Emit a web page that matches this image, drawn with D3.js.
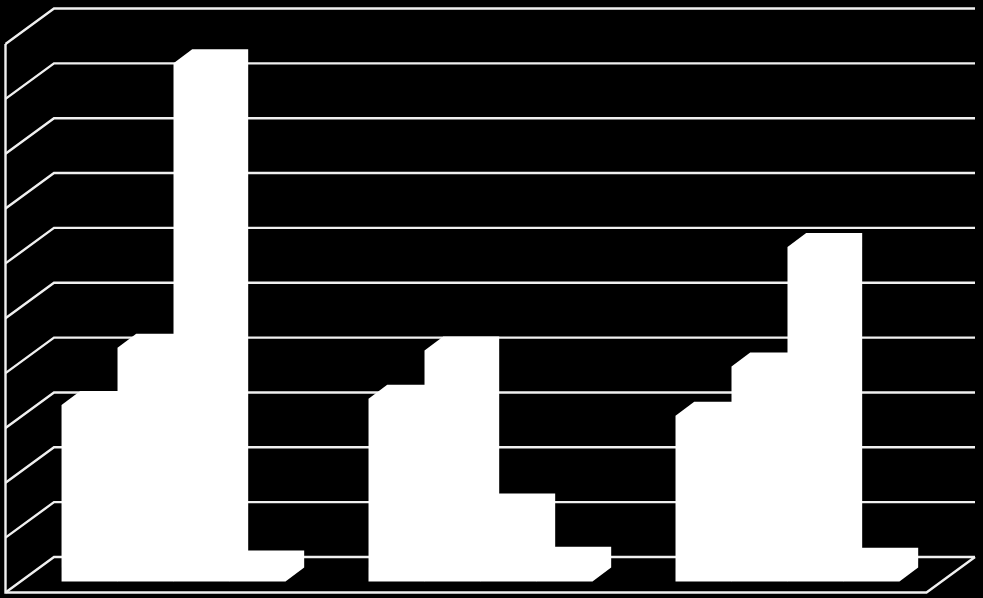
<!DOCTYPE html>
<html lang="en">
<head>
    <meta charset="UTF-8">
    <title>3D column chart</title>
    <script src="https://d3js.org/d3.v7.min.js"></script>
    <style>
        html, body { margin: 0; padding: 0; background: #000; }
        svg { display: block; }
        .grid { fill: none; stroke: #f0f0f0; stroke-width: 2.4px; }
    </style>
</head>
<body>
    <svg width="983" height="598"></svg>
    <script>
        const categories = ["A", "B", "C"];
        const seriesNames = ["s1", "s2", "s3", "s4"];
        const series1 = [32.2, 33.3, 30.2];
        const series2 = [42.6, 42.1, 39.2];
        const series3 = [94.5, 13.5, 61.0];
        const series4 = [3.1, 3.8, 3.6];
        const tickValues = [0, 10, 20, 30, 40, 50, 60, 70, 80, 90, 100];

        const allSeries = [series1, series2, series3, series4];

        // floor/wall corners of the fake 3d box
        const plotLeft = 5.5, plotRight = 926.5, plotBottom = 592.5, plotTop = 44;
        const depth = {x: 48.5, y: -35.5};
        const barDepth = {x: 18.7, y: -14};
        const barOffset = {x: 14.5, y: -11};   // bars stand a bit behind the front edge

        const svg = d3.select("svg");

        const x = d3.scaleBand()
            .domain(categories)
            .range([plotLeft, plotRight])
            .paddingInner(0.2705)
            .paddingOuter(0.1353);

        const xInner = d3.scaleBand()
            .domain(seriesNames)
            .range([0, x.bandwidth()]);

        const y = d3.scaleLinear()
            .domain([0, 100])
            .range([plotBottom, plotTop]);

        // gridlines, side wall part then back wall part
        const line = d3.line();
        svg.append("g")
            .selectAll("path")
            .data(tickValues)
            .join("path")
            .attr("class", "grid")
            .attr("d", v => line([
                [plotLeft, y(v)],
                [plotLeft + depth.x, y(v) + depth.y],
                [plotRight + depth.x, y(v) + depth.y]
            ]));

        // left wall and floor
        svg.append("path")
            .attr("class", "grid")
            .attr("d", line([
                [plotLeft, y(100)],
                [plotLeft, plotBottom],
                [plotRight, plotBottom],
                [plotRight + depth.x, plotBottom + depth.y]
            ]));

        // one white polygon per bar: front, top and side faces together
        const bars = [];
        categories.forEach((c, i) => {
            seriesNames.forEach((s, j) => {
                bars.push({category: c, name: s, value: allSeries[j][i]});
            });
        });

        svg.append("g")
            .selectAll("path")
            .data(bars)
            .join("path")
            .attr("fill", "#fff")
            .attr("d", d => {
                const x0 = x(d.category) + xInner(d.name) + barOffset.x;
                const x1 = x0 + xInner.bandwidth();
                const y0 = y(0) + barOffset.y;
                const y1 = y(d.value) + barOffset.y;
                return line([
                    [x0, y0],
                    [x0, y1],
                    [x0 + barDepth.x, y1 + barDepth.y],
                    [x1 + barDepth.x, y1 + barDepth.y],
                    [x1 + barDepth.x, y0 + barDepth.y],
                    [x1, y0]
                ]) + "Z";
            });
    </script>
</body>
</html>
